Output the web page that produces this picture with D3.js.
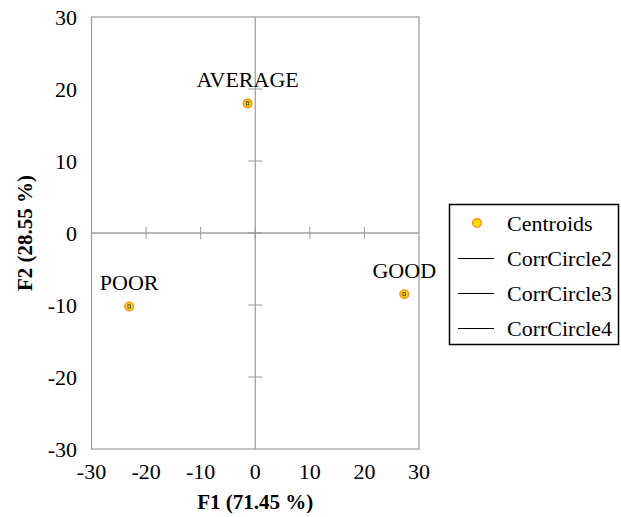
<!DOCTYPE html>
<html><head><meta charset="utf-8">
<script src="https://cdn.jsdelivr.net/npm/d3@7"></script>
<style>body{margin:0;background:#fff}svg{display:block}text{font-family:"Liberation Serif","DejaVu Serif",serif}</style>
</head><body>
<svg id="c" width="621" height="517"></svg>
<script>
const labels = ["AVERAGE", "POOR", "GOOD"];
const f1 = [-1.4, -23.1, 27.3];
const f2 = [18.0, -10.2, -8.5];
const ticks = [-30, -20, -10, 0, 10, 20, 30];
const legendItems = ["Centroids", "CorrCircle2", "CorrCircle3", "CorrCircle4"];
const xTitle = "F1 (71.45 %)";
const yTitle = "F2 (28.55 %)";

const svg = d3.select("#c");
const fs = 22;
const L = 91.5, R = 419, T = 17, B = 449;
const x = d3.scaleLinear().domain([-30, 30]).range([L, R]);
const y = d3.scaleLinear().domain([-30, 30]).range([B, T]);

// frame
svg.append("rect").attr("x", L).attr("y", T).attr("width", R - L).attr("height", B - T)
  .attr("fill", "none").attr("stroke", "#a0a0a0").attr("stroke-width", 1.3);
// center axes
svg.append("line").attr("x1", x(0)).attr("x2", x(0)).attr("y1", T).attr("y2", B).attr("stroke", "#a0a0a0").attr("stroke-width", 1.3);
svg.append("line").attr("x1", L).attr("x2", R).attr("y1", y(0)).attr("y2", y(0)).attr("stroke", "#a0a0a0").attr("stroke-width", 1.3);
// cross ticks on center axes
const inner = ticks.filter(t => t > -30 && t < 30);
svg.append("g").selectAll("line").data(inner).join("line")
  .attr("x1", d => x(d)).attr("x2", d => x(d)).attr("y1", y(0) - 6).attr("y2", y(0) + 6)
  .attr("stroke", "#999").attr("stroke-width", 1);
svg.append("g").selectAll("line").data(inner).join("line")
  .attr("y1", d => y(d)).attr("y2", d => y(d)).attr("x1", x(0) - 7).attr("x2", x(0) + 7)
  .attr("stroke", "#999").attr("stroke-width", 1);

// tick labels
svg.append("g").selectAll("text").data(ticks).join("text")
  .attr("x", 77).attr("y", d => y(d)).attr("dy", "0.35em").attr("text-anchor", "end")
  .attr("font-size", fs).attr("fill", "#000").text(d => d);
svg.append("g").selectAll("text").data(ticks).join("text")
  .attr("x", d => x(d)).attr("y", 471).attr("dy", "0.35em").attr("text-anchor", "middle")
  .attr("font-size", fs).attr("fill", "#000").text(d => d);

// axis titles
svg.append("text").attr("x", x(0)).attr("y", 502).attr("dy", "0.35em").attr("text-anchor", "middle")
  .attr("font-size", 21).attr("font-weight", "bold").text(xTitle);
svg.append("text").attr("transform", `translate(25,${y(0)}) rotate(-90)`).attr("dy", "0.35em")
  .attr("text-anchor", "middle").attr("font-size", 21).attr("font-weight", "bold").text(yTitle);

// points
const data = labels.map((l, i) => ({ l, x: f1[i], y: f2[i] }));
const g = svg.append("g");
g.selectAll("circle.o").data(data).join("circle").attr("class", "o")
  .attr("cx", d => x(d.x)).attr("cy", d => y(d.y)).attr("r", 4.3)
  .attr("fill", "#ffdd00").attr("stroke", "#ff8c1a").attr("stroke-width", 1.4);
g.selectAll("rect.i").data(data).join("rect").attr("class", "i")
  .attr("x", d => x(d.x) - 1.3).attr("y", d => y(d.y) - 1.6).attr("width", 2.6).attr("height", 3.2)
  .attr("fill", "none").attr("stroke", "#333").attr("stroke-width", 0.8);

// point labels
g.selectAll("text").data(data).join("text")
  .attr("x", d => x(d.x)).attr("y", d => y(d.y) - 24)
  .attr("dy", "0.35em").attr("text-anchor", "middle")
  .attr("font-size", fs).attr("fill", "#000").text(d => d.l);

// legend
const lg = svg.append("g");
lg.append("rect").attr("x", 449.5).attr("y", 204.5).attr("width", 169).attr("height", 140)
  .attr("fill", "#fff").attr("stroke", "#000").attr("stroke-width", 1.5);
const ly = d3.scalePoint().domain(legendItems).range([223, 328]);
legendItems.forEach((item, i) => {
  const yy = ly(item);
  if (i === 0) {
    lg.append("circle").attr("cx", 477).attr("cy", yy).attr("r", 4.3)
      .attr("fill", "#ffdd00").attr("stroke", "#ff8c1a").attr("stroke-width", 1.4);
  } else {
    lg.append("line").attr("x1", 458).attr("x2", 494).attr("y1", yy + 0.5).attr("y2", yy + 0.5)
      .attr("stroke", "#000").attr("stroke-width", 1.2);
  }
  lg.append("text").attr("x", 507).attr("y", yy).attr("dy", "0.35em")
    .attr("font-size", fs).text(item);
});
</script>
</body></html>
